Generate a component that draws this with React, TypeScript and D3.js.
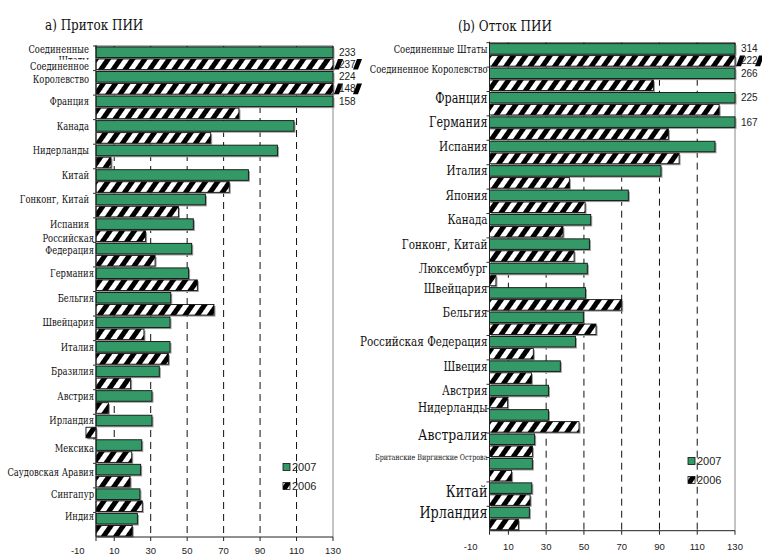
import * as d3 from "d3";

// Приток ПИИ (a) — млрд долл.
const LEFT_CATEGORIES = [
  "Соединенные Штаты",
  "Соединенное Королевство",
  "Франция",
  "Канада",
  "Нидерланды",
  "Китай",
  "Гонконг, Китай",
  "Испания",
  "Российская Федерация",
  "Германия",
  "Бельгия",
  "Швейцария",
  "Италия",
  "Бразилия",
  "Австрия",
  "Ирландия",
  "Мексика",
  "Саудовская Аравия",
  "Сингапур",
  "Индия",
];
const LEFT_2007 = [233, 224, 158, 108.6, 99.5, 83.6, 60, 53.4, 52.5, 50.8, 41, 40.6, 40.6, 34.7, 30.7, 30.7, 25.1, 24.5, 24.1, 22.7];
const LEFT_2006 = [237, 148, 78.4, 62.9, 8.2, 73.1, 45.2, 27.2, 32.4, 55.6, 64.7, 26.3, 39.7, 19, 6.8, -5.5, 19.6, 18.7, 25.4, 19.9];

// Отток ПИИ (b)
const RIGHT_CATEGORIES = [
  "Соединенные Штаты",
  "Соединенное Королевство",
  "Франция",
  "Германия",
  "Испания",
  "Италия",
  "Япония",
  "Канада",
  "Гонконг, Китай",
  "Люксембург",
  "Швейцария",
  "Бельгия",
  "Российская Федерация",
  "Швеция",
  "Австрия",
  "Нидерланды",
  "Австралия",
  "Британские Виргинские Острова",
  "Китай",
  "Ирландия",
];
const RIGHT_2007 = [314, 266, 225, 167, 119.4, 90.8, 73.5, 53.6, 52.9, 51.8, 50.8, 49.7, 45.5, 37.5, 31.2, 31.2, 23.9, 22.7, 22.4, 21.1];
const RIGHT_2006 = [222, 86.8, 121.6, 94.7, 100.4, 42.3, 50.6, 38.9, 44.8, 3.4, 70, 56.4, 23.2, 22.2, 9.6, 47.4, 22.7, 11.7, 21.5, 15.3];

const SERIES = ["2007", "2006"];
const TICK_LABELS = [-10, 10, 30, 50, 70, 90, 110, 130];
const GRID_VALUES = [10, 30, 50, 70, 90, 110];
const AXIS_MAX = 130;

const GREEN = "#339966";
const SERIF = "DejaVu Serif";
const SERIF_SQUEEZE = 0.8; // DejaVu Serif is wider than the Times face of the original
const SANS = "Liberation Sans, Arial, sans-serif";

type LabelStyle = { size?: number; dy?: number; dx?: number; lines?: string[]; lh?: number; bg?: boolean };

const LEFT_LABEL_STYLE: Record<string, LabelStyle> = {
  "Соединенные Штаты": { lines: ["Соединенные", "Штаты"], dy: -3, lh: 11, dx: -5 },
  "Соединенное Королевство": { lines: ["Соединенное", "Королевство"], dy: -11, lh: 13, dx: -5, bg: true },
  Франция: { dx: -5 },
  Канада: { dx: -5 },
  Нидерланды: { dx: -5 },
  Китай: { dx: -5 },
  "Гонконг, Китай": { dx: -5 },
  Испания: { dx: -5 },
  "Российская Федерация": { lines: ["Российская", "Федерация"], dy: -11, lh: 12 },
  Мексика: { dy: 3 },
  "Саудовская Аравия": { dy: 3 },
  Индия: { dy: -3 },
};

const RIGHT_LABEL_STYLE: Record<string, LabelStyle> = {
  "Соединенные Штаты": { size: 10.5 },
  "Соединенное Королевство": { size: 10.5, dy: -4 },
  Франция: { size: 14 },
  Германия: { size: 14 },
  Швейцария: { dy: -4 },
  Бельгия: { dy: -5 },
  Нидерланды: { dy: -7 },
  Австралия: { size: 15.5, dy: -5 },
  "Британские Виргинские Острова": { size: 8, dy: -6 },
  Китай: { size: 16, dy: 3 },
  Ирландия: { size: 16 },
};

type SerifTextProps = {
  x: number;
  y: number;
  size: number;
  anchor?: "start" | "end" | "middle";
  children: string;
  central?: boolean;
};

const SerifText = ({ x, y, size, anchor = "start", children, central = true }: SerifTextProps) => (
  <g transform={`translate(${x},${y}) scale(${SERIF_SQUEEZE},1)`}>
    <text
      x={0}
      y={0}
      textAnchor={anchor}
      dominantBaseline={central ? "central" : "auto"}
      fontFamily={SERIF}
      fontSize={size}
      fill="#111"
    >
      {children}
    </text>
  </g>
);

type PanelProps = {
  id: string;
  title: string;
  titleX: number;
  titleY: number;
  x0: number;
  x1: number;
  top: number;
  bottom: number;
  categories: string[];
  v2007: number[];
  v2006: number[];
  labelStyle: Record<string, LabelStyle>;
  defaultLabelSize: number;
  legendX: number;
  legendY: number;
  tickY: number;
};

const Panel = ({
  id,
  title,
  titleX,
  titleY,
  x0,
  x1,
  top,
  bottom,
  categories,
  v2007,
  v2006,
  labelStyle,
  defaultLabelSize,
  legendX,
  legendY,
  tickY,
}: PanelProps) => {
  const xScale = d3.scaleLinear().domain([0, AXIS_MAX]).range([x0, x1]);
  const yScale = d3.scaleBand<string>().domain(categories).range([top, bottom]);
  const sub = d3
    .scaleBand<string>()
    .domain(SERIES)
    .range([0, yScale.bandwidth()])
    .paddingInner(0.12)
    .paddingOuter(0.08);
  const barH = sub.bandwidth();
  const hatch = `url(#hatch-${id})`;

  const bar = (cat: string, serie: string, v: number) => {
    const y = (yScale(cat) || 0) + (sub(serie) || 0);
    const clipped = Math.min(v, AXIS_MAX);
    const xa = xScale(Math.min(0, clipped));
    const xb = xScale(Math.max(0, clipped));
    const fill = serie === "2007" ? GREEN : hatch;
    const over = v > AXIS_MAX;
    return (
      <g key={cat + serie}>
        <rect x={xa + 1.5} y={y + 1.5} width={xb - xa} height={barH} fill="#9a9a9a" />
        <rect x={xa} y={y} width={xb - xa} height={barH} fill={fill} stroke="#111" strokeWidth={0.9} />
        {over && serie === "2006" && (
          <>
            <path
              d={`M${x1 + 1},${y + barH} L${x1 + 5},${y} L${x1 + 10},${y} L${x1 + 6},${y + barH} Z`}
              fill="#000"
            />
            <path
              d={`M${x1 + 20},${y + barH} L${x1 + 24},${y} L${x1 + 29},${y} L${x1 + 25},${y + barH} Z`}
              fill="#000"
            />
          </>
        )}
        {over && (
          <text x={x1 + 6} y={y + barH / 2} dominantBaseline="central" fontFamily={SANS} fontSize={10} fill="#222">
            {v}
          </text>
        )}
      </g>
    );
  };

  const bars = categories.map((c, i) => (
    <g key={c}>
      {bar(c, "2007", v2007[i])}
      {bar(c, "2006", v2006[i])}
    </g>
  ));

  const labels = categories.map((c) => {
    const st = labelStyle[c] || {};
    const size = st.size || defaultLabelSize;
    const cy = (yScale(c) || 0) + (sub("2007") || 0) + barH / 2 + (st.dy || 0);
    const lines = st.lines || [c];
    const lh = st.lh || 12;
    const tx = x0 - 2 + (st.dx || 0);
    return (
      <g key={c}>
        {st.bg && <rect x={tx - 64} y={cy - 6} width={64} height={lines.length * lh} fill="white" />}
        {lines.map((ln, k) => (
          <SerifText key={k} x={tx} y={cy + k * lh} size={size} anchor="end">
            {ln}
          </SerifText>
        ))}
      </g>
    );
  });

  const catTicks = categories.map((c) => (
    <line key={c} x1={x0 - 3} x2={x0} y1={yScale(c) || 0} y2={yScale(c) || 0} stroke="#333" />
  ));

  const axisTicks = [0, ...GRID_VALUES, AXIS_MAX];

  return (
    <g>
      <defs>
        <pattern id={`hatch-${id}`} patternUnits="userSpaceOnUse" width={10} height={10} patternTransform="rotate(35)">
          <rect width={10} height={10} fill="white" />
          <rect width={5} height={10} fill="#000" />
        </pattern>
      </defs>
      <SerifText x={titleX} y={titleY} size={15} central={false}>
        {title}
      </SerifText>
      {GRID_VALUES.map((g) => (
        <line
          key={g}
          x1={xScale(g)}
          x2={xScale(g)}
          y1={top}
          y2={bottom}
          stroke="#111"
          strokeWidth={1}
          strokeDasharray="7,5"
        />
      ))}
      <line x1={x1} x2={x1} y1={top} y2={bottom} stroke="#888" strokeWidth={1} />
      <line x1={x0} x2={x1} y1={top} y2={top} stroke="#666" />
      {axisTicks.map((t) => (
        <line key={"tt" + t} x1={xScale(t)} x2={xScale(t)} y1={top} y2={top + 3} stroke="#333" />
      ))}
      {bars}
      <line x1={x0} x2={x0} y1={top - 1} y2={bottom} stroke="#222" />
      {catTicks}
      <line x1={x0} x2={x1} y1={bottom} y2={bottom} stroke="#222" />
      {axisTicks.map((t) => (
        <line key={"bt" + t} x1={xScale(t)} x2={xScale(t)} y1={bottom} y2={bottom + 4} stroke="#222" />
      ))}
      {TICK_LABELS.map((t) => (
        <text
          key={t}
          x={xScale(t)}
          y={tickY}
          textAnchor="middle"
          dominantBaseline="central"
          fontFamily={SANS}
          fontSize={9.5}
          fill="#222"
        >
          {t}
        </text>
      ))}
      {labels}
      {SERIES.map((s, k) => (
        <g key={s} transform={`translate(${legendX},${legendY + k * 19})`}>
          <rect x={0} y={-3.5} width={7} height={7} fill={s === "2007" ? GREEN : hatch} stroke="#111" strokeWidth={0.8} />
          <text x={9} y={0} dominantBaseline="central" fontFamily={SANS} fontSize={11} fill="#222">
            {s}
          </text>
        </g>
      ))}
    </g>
  );
};

export default function App() {
  return (
    <svg width={762} height={554} style={{ position: "absolute", left: 0, top: 0, background: "white" }}>
      <rect width={762} height={554} fill="white" />
      <Panel
        id="in"
        title="а) Приток ПИИ"
        titleX={45}
        titleY={30}
        x0={96}
        x1={333}
        top={46}
        bottom={537}
        categories={LEFT_CATEGORIES}
        v2007={LEFT_2007}
        v2006={LEFT_2006}
        labelStyle={LEFT_LABEL_STYLE}
        defaultLabelSize={10.5}
        legendX={283}
        legendY={467}
        tickY={550}
      />
      <Panel
        id="out"
        title="(b) Отток ПИИ"
        titleX={458}
        titleY={31}
        x0={489.5}
        x1={735}
        top={42.7}
        bottom={530.7}
        categories={RIGHT_CATEGORIES}
        v2007={RIGHT_2007}
        v2006={RIGHT_2006}
        labelStyle={RIGHT_LABEL_STYLE}
        defaultLabelSize={13}
        legendX={688}
        legendY={461}
        tickY={546}
      />
    </svg>
  );
}
